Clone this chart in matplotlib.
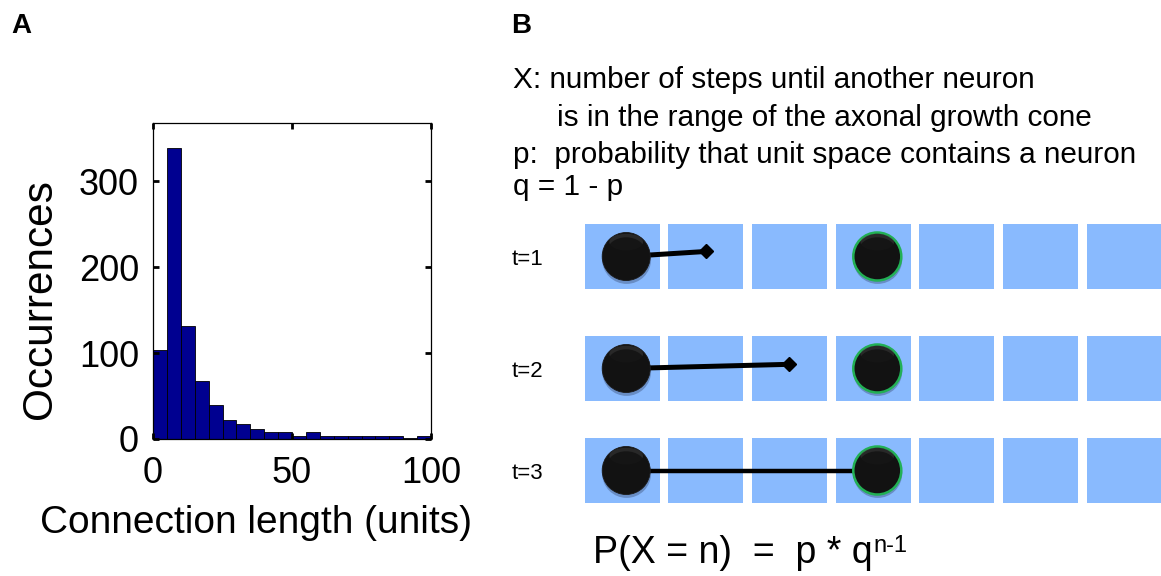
import matplotlib
matplotlib.use("Agg")
import matplotlib.pyplot as plt
from matplotlib.patches import Rectangle, Circle, Ellipse

plt.rcParams['font.family'] = ['Liberation Sans', 'DejaVu Sans']

# ---------------- data ----------------
# Panel A: histogram of connection lengths (bins of 5 units)
bin_left = [0, 5, 10, 15, 20, 25, 30, 35, 40, 45, 50, 55, 60, 65, 70, 75, 80, 85, 90, 95]
bin_width = 5
counts = [104, 338, 131, 67, 39, 22, 18, 12, 8, 8, 4, 8, 4, 4, 4, 4, 4, 4, 1, 4]
xticks = [0, 50, 100]
yticks = [0, 100, 200, 300]
xlabel = "Connection length (units)"
ylabel = "Occurrences"

# Panel B: schematic of growth steps
n_cells = 7
target_cell = 3
time_steps = [1, 2, 3]          # growth cone reaches cell t at time t
time_labels = ["t=1", "t=2", "t=3"]
cone_rise = [0.06, 0.05, 0.0]   # slight upward tilt of the axon (cell units)
text_lines = [
    "X: number of steps until another neuron",
    "is in the range of the axonal growth cone",
    "p:  probability that unit space contains a neuron",
    "q = 1 - p",
]
formula_main = "P(X = n)  =  p * q"
formula_sup = "n-1"

# ---------------- figure ----------------
W, H = 1161, 576
fig = plt.figure(figsize=(W / 100, H / 100), dpi=100)

def fx(px):
    return px / W

def fy(py):
    return 1 - py / H

# ---- Panel A ----
axA = fig.add_axes([fx(153), fy(439), 278 / W, 316.3 / H])
axA.bar(bin_left, counts, width=bin_width, align='edge',
        color='#000090', edgecolor='black', linewidth=0.6)
axA.set_xlim(0, 100)
axA.set_ylim(0, 368)
axA.set_xticks(xticks)
axA.set_yticks(yticks)
axA.tick_params(direction='in', length=4, width=2, top=True, right=True,
                labelsize=26, colors='black')
axA.tick_params(axis='x', pad=12)
axA.tick_params(axis='y', pad=10)
for s in axA.spines.values():
    s.set_linewidth(0.9)
axA.set_xlabel(xlabel, fontsize=28)
axA.set_ylabel(ylabel, fontsize=30.5)
axA.xaxis.set_label_coords(0.37, -0.21)
axA.yaxis.set_label_coords(-0.333, 0.443)

# ---- Panel labels ----
fig.text(fx(11), fy(33), "A", fontsize=20, fontweight='bold', va='baseline')
fig.text(fx(511), fy(33), "B", fontsize=20, fontweight='bold', va='baseline')

# ---- Panel B text ----
line_x = [513, 557, 513, 513]
line_y = [80, 118, 155, 187]
for txt, lx, ly in zip(text_lines, line_x, line_y):
    fig.text(fx(lx), fy(ly), txt, fontsize=21.4, va='center', ha='left')

# ---- Panel B schematic ----
pitch = 83.7  # px per cell
axB = fig.add_axes([fx(584.5), fy(510), 577.2 / W, 295 / H])
axB.set_xlim(0, 577.2 / pitch)
axB.set_ylim(253.5 / pitch, -41.5 / pitch)
axB.axis('off')

row_y = [0, 112 / pitch, 214 / pitch]
cell_w = 75 / pitch
cell_h = 65 / pitch
ball_r = 24 / pitch
ball_off = 0.05


def draw_ball(ax, x, y, edge=None):
    shadow = Ellipse((x + 0.005, y + 0.035), 2 * ball_r * 1.02, 2 * ball_r * 1.02,
                     facecolor='#2b3a5c', alpha=0.35, edgecolor='none', zorder=4)
    ax.add_patch(shadow)
    ball = Circle((x, y), ball_r, facecolor='#121212',
                  edgecolor=edge if edge else '#1a1a1a',
                  linewidth=1.8 if edge else 0.6, zorder=5)
    ax.add_patch(ball)
    hl = Ellipse((x, y - ball_r * 0.6), ball_r * 1.4, ball_r * 0.7,
                 facecolor='#4a4a4a', alpha=0.4, edgecolor='none', zorder=6)
    ax.add_patch(hl)
    hl.set_clip_path(ball)
    hl2 = Ellipse((x, y - ball_r * 0.2), ball_r * 1.6, ball_r * 1.2,
                  facecolor='#121212', alpha=0.85, edgecolor='none', zorder=6.5)
    ax.add_patch(hl2)
    hl2.set_clip_path(ball)


for ri, (t, lab, rise) in enumerate(zip(time_steps, time_labels, cone_rise)):
    yc = row_y[ri]
    for k in range(n_cells):
        axB.add_patch(Rectangle((k, yc - cell_h / 2), cell_w, cell_h,
                                facecolor='#89BAFE', edgecolor='none', zorder=1))
    x0 = 0 + cell_w / 2 + ball_off
    xt = target_cell + cell_w / 2 + ball_off
    if t < target_cell:
        xc = t + cell_w / 2
        axB.plot([x0, xc], [yc, yc - rise], color='black', lw=3.6,
                 solid_capstyle='butt', zorder=3)
        axB.plot([xc], [yc - rise], marker='D', markersize=7.5,
                 color='black', zorder=3)
    else:
        axB.plot([x0, xt - ball_r], [yc, yc], color='black', lw=3.2,
                 solid_capstyle='butt', zorder=3)
    draw_ball(axB, x0, yc)
    draw_ball(axB, xt, yc, edge='#22b055')
    axB.text(-0.68, yc + 0.03, lab, fontsize=16, ha='center', va='center',
             clip_on=False)

# ---- formula ----
tf = fig.text(fx(593), fy(563), formula_main, fontsize=27, va='baseline', ha='left')
fig.canvas.draw()
bb = tf.get_window_extent()
fig.text((bb.x1 + 1) / W, fy(552), formula_sup, fontsize=17, va='baseline', ha='left')

fig.savefig("out.png", dpi=100)
